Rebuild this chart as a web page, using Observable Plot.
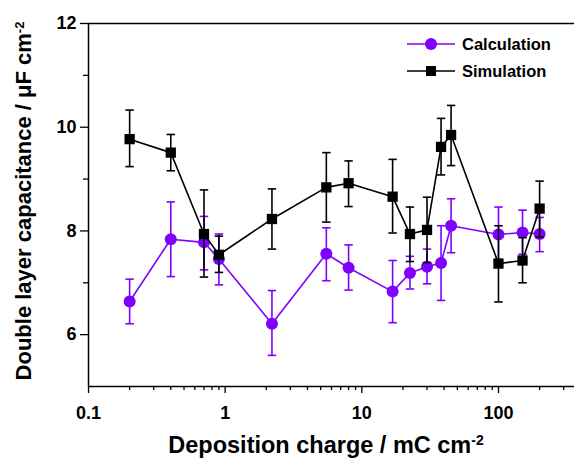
<!DOCTYPE html>
<html>
<head>
<meta charset="utf-8">
<script src="https://cdn.jsdelivr.net/npm/d3@7"></script>
<script src="https://cdn.jsdelivr.net/npm/@observablehq/plot@0.6"></script>
<style>
  html, body { margin: 0; padding: 0; background: #fff; overflow: hidden; }
  #chart { width: 574px; height: 458px; }
</style>
</head>
<body>
<div id="chart"></div>
<script>
// Deposition charge (mC cm^-2)
const charge = [0.2, 0.4, 0.7, 0.9, 2.2, 5.5, 8, 16.8, 22.5, 30, 38, 45, 100, 150, 200];

// Simulation (black squares)
const simVal = [9.77, 9.51, 7.94, 7.54, 8.23, 8.84, 8.92, 8.66, 7.94, 8.02, 9.62, 9.85, 7.37, 7.43, 8.43];
const simLo  = [9.24, 9.16, 7.11, 7.20, 7.65, 8.17, 8.47, 7.96, 7.41, 7.39, 9.08, 9.26, 6.63, 7.00, 7.88];
const simHi  = [10.33, 9.86, 8.79, 7.90, 8.81, 9.51, 9.35, 9.38, 8.46, 8.65, 10.17, 10.42, 8.10, 7.87, 8.96];

// Calculation (purple circles)
const calcVal = [6.64, 7.84, 7.78, 7.46, 6.21, 7.56, 7.29, 6.83, 7.19, 7.31, 7.38, 8.10, 7.93, 7.97, 7.94];
const calcLo  = [6.21, 7.12, 7.25, 6.96, 5.60, 7.04, 6.86, 6.23, 6.88, 6.98, 6.66, 7.58, 7.45, 7.55, 7.60];
const calcHi  = [7.07, 8.56, 8.28, 7.94, 6.85, 8.06, 7.73, 7.43, 7.51, 7.65, 8.10, 8.62, 8.46, 8.40, 8.26];

// Axis ticks
const xMajor = [0.1, 1, 10, 100];
const xMinor = [0.2,0.3,0.4,0.5,0.6,0.7,0.8,0.9,2,3,4,5,6,7,8,9,20,30,40,50,60,70,80,90,200,300];
const yMajor = [6, 8, 10, 12];
const yMinor = [7, 9, 11];

const seriesNames = ["Calculation", "Simulation"];
const xTitle = "Deposition charge / mC cm";
const yTitle = "Double layer capacitance / μF cm";
const unitExp = "-2";

const PURPLE = "#8000ff";
const BLACK = "#000000";

const sim = charge.map((x, i) => ({x, y: simVal[i], lo: simLo[i], hi: simHi[i]}));
const calc = charge.map((x, i) => ({x, y: calcVal[i], lo: calcLo[i], hi: calcHi[i]}));

const capSym = { draw(ctx) { ctx.moveTo(-4.2, 0); ctx.lineTo(4.2, 0); } };

function seriesMarks(data, color, symbol, r) {
  return [
    Plot.line(data, {x: "x", y: "y", stroke: color, strokeWidth: 1.6}),
    Plot.ruleX(data, {x: "x", y1: "lo", y2: "hi", stroke: color, strokeWidth: 1.6}),
    Plot.dot(data, {x: "x", y: "lo", symbol: capSym, stroke: color, strokeWidth: 1.6, fill: "none", r: 3}),
    Plot.dot(data, {x: "x", y: "hi", symbol: capSym, stroke: color, strokeWidth: 1.6, fill: "none", r: 3}),
    Plot.dot(data, {x: "x", y: "y", symbol, r, fill: color, stroke: "none"})
  ];
}

const chart = Plot.plot({
  width: 574,
  height: 458,
  marginLeft: 88,
  marginRight: 0,
  marginTop: 23,
  marginBottom: 72,
  style: {fontFamily: "'Liberation Sans', Arial, sans-serif", fontWeight: "bold", background: "#fff", color: "#000"},
  x: {type: "log", domain: [0.1, 360]},
  y: {domain: [5, 12]},
  marks: [
    Plot.axisX({ticks: xMajor, tickSize: 7, tickPadding: 13, fontSize: 18, strokeWidth: 1.3,
      tickFormat: d => d < 1 ? "0.1" : String(d), label: null}),
    Plot.axisX({ticks: xMinor, tickSize: 4, strokeWidth: 1.3, tickFormat: () => "", label: null}),
    Plot.axisY({ticks: yMajor, tickSize: 8, tickPadding: 4, fontSize: 18, strokeWidth: 1.3,
      tickFormat: d => String(d), label: null}),
    Plot.axisY({ticks: yMinor, tickSize: 5, strokeWidth: 1.3, tickFormat: () => "", label: null}),
    Plot.ruleX([0.1], {stroke: BLACK, strokeWidth: 1.5}),
    Plot.ruleY([5], {stroke: BLACK, strokeWidth: 1.5}),
    Plot.ruleY([12], {stroke: BLACK, strokeWidth: 1.5}),
    ...seriesMarks(calc, PURPLE, "circle", 6),
    ...seriesMarks(sim, BLACK, "square", 5.8)
  ]
});

document.getElementById("chart").appendChild(chart);

const svg = d3.select(chart);

// Axis titles with superscript
const xt = svg.append("text")
  .attr("x", 326).attr("y", 453)
  .attr("text-anchor", "middle")
  .style("font-size", "23.5px").style("font-weight", "bold")
  .attr("fill", "#000");
xt.append("tspan").text(xTitle);
xt.append("tspan").attr("dy", "-0.55em").style("font-size", "14px").text(unitExp);

const yt = svg.append("text")
  .attr("transform", "translate(31,201) rotate(-90)")
  .attr("text-anchor", "middle")
  .style("font-size", "22px").style("font-weight", "bold")
  .attr("fill", "#000");
yt.append("tspan").text(yTitle);
yt.append("tspan").attr("dy", "-0.55em").style("font-size", "13px").text(unitExp);

// Legend
const legend = svg.append("g").attr("text-anchor", "start");
const items = [
  {name: seriesNames[0], color: PURPLE, shape: "circle", y: 44},
  {name: seriesNames[1], color: BLACK, shape: "square", y: 71}
];
items.forEach(it => {
  legend.append("line").attr("x1", 407).attr("x2", 455).attr("y1", it.y).attr("y2", it.y)
    .attr("stroke", it.color).attr("stroke-width", 1.6);
  if (it.shape === "circle") {
    legend.append("circle").attr("cx", 431).attr("cy", it.y).attr("r", 6).attr("fill", it.color);
  } else {
    legend.append("rect").attr("x", 426).attr("y", it.y - 5).attr("width", 10).attr("height", 10).attr("fill", it.color);
  }
  legend.append("text").attr("x", 462).attr("y", it.y).attr("dy", "0.36em")
    .attr("text-anchor", "start")
    .style("font-size", "16.5px").style("font-weight", "bold").attr("fill", "#000").text(it.name);
});
</script>
</body>
</html>
